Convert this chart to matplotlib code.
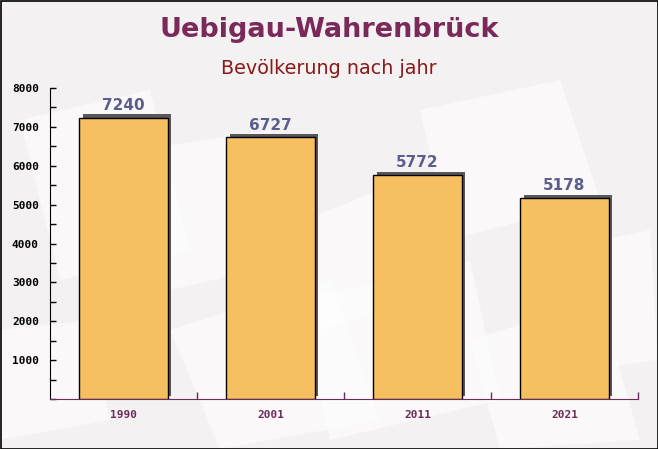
import matplotlib
matplotlib.use("Agg")
import matplotlib.pyplot as plt
from matplotlib.patches import Rectangle, Polygon
from matplotlib.ticker import MultipleLocator

title = "Uebigau-Wahrenbrück"
subtitle = "Bevölkerung nach jahr"
years = ["1990", "2001", "2011", "2021"]
population = [7240, 6727, 5772, 5178]
yticks = [1000, 2000, 3000, 4000, 5000, 6000, 7000, 8000]

fig = plt.figure(figsize=(6.58, 4.49), dpi=100)
fig.patch.set_facecolor("#f4f1f3")

# faint background shapes (decorative envelopes)
bg = fig.add_axes([0, 0, 1, 1], zorder=0)
bg.set_xlim(0, 658); bg.set_ylim(449, 0); bg.axis("off")
shapes = [
    [(20, 120), (150, 90), (190, 250), (60, 280)],
    [(140, 150), (270, 130), (300, 260), (170, 290)],
    [(420, 110), (560, 80), (600, 200), (450, 240)],
    [(560, 250), (650, 230), (658, 360), (590, 370)],
    [(170, 330), (330, 280), (380, 420), (220, 449)],
    [(300, 300), (470, 260), (500, 400), (330, 440)],
    [(470, 340), (600, 300), (640, 440), (500, 449)],
    [(0, 330), (90, 320), (110, 420), (0, 440)],
    [(280, 230), (380, 190), (420, 300), (320, 330)],
]
for s in shapes:
    bg.add_patch(Polygon(s, closed=True, facecolor="white", alpha=0.55, edgecolor="none"))
bg.add_patch(Rectangle((0.5, 0.5), 657, 448, fill=False, edgecolor="black", lw=1.2))

ax = fig.add_axes([50/658, 1-399/449, 588/658, 311/449], zorder=1)
ax.patch.set_alpha(0)

x = list(range(len(years)))
w = 0.6
# shadows
dx, dy = 0.022, 80
ax.bar([xi + dx for xi in x], population, width=w, bottom=dy, color="#5a565a",
       edgecolor="none", zorder=2, align="center")
ax.bar(x, population, width=w, color="#f6bf60", edgecolor="black",
       linewidth=1.0, zorder=3)

for xi, v in zip(x, population):
    ax.text(xi, v + 110, str(v), ha="center", va="bottom", fontsize=11,
            fontweight="bold", color="#5a5e8c", family="DejaVu Sans", zorder=4)

ax.set_xlim(-0.5, 3.5)
ax.set_ylim(0, 8000)
ax.set_yticks(yticks)
ax.set_yticklabels([str(t) for t in yticks], family="DejaVu Sans Mono",
                   fontweight="bold", fontsize=8, color="black")
ax.yaxis.set_minor_locator(MultipleLocator(500))
ax.tick_params(axis="y", which="both", direction="in", length=4, width=1, color="black", pad=8)
ax.set_xticks(x)
ax.set_xticklabels(years, family="DejaVu Sans Mono", fontweight="bold", fontsize=8,
                   color="#6b2d55")
ax.tick_params(axis="x", which="major", length=0, pad=8)
ax.set_xticks([0.5, 1.5, 2.5, 3.5], minor=True)
ax.tick_params(axis="x", which="minor", direction="in", length=5, color="#6b2d55", width=1)

for s in ["top", "right"]:
    ax.spines[s].set_visible(False)
ax.spines["left"].set_color("black")
ax.spines["bottom"].set_color("#6b2d55")

fig.text(0.5, 1-30/449, title, ha="center", va="center", fontsize=19.5,
         fontweight="bold", color="#7a2a58", family="DejaVu Sans")
fig.text(0.5, 1-68/449, subtitle, ha="center", va="center", fontsize=13.8,
         color="#8b1a1a", family="DejaVu Sans")

fig.savefig("out.png", dpi=100, facecolor=fig.get_facecolor())
